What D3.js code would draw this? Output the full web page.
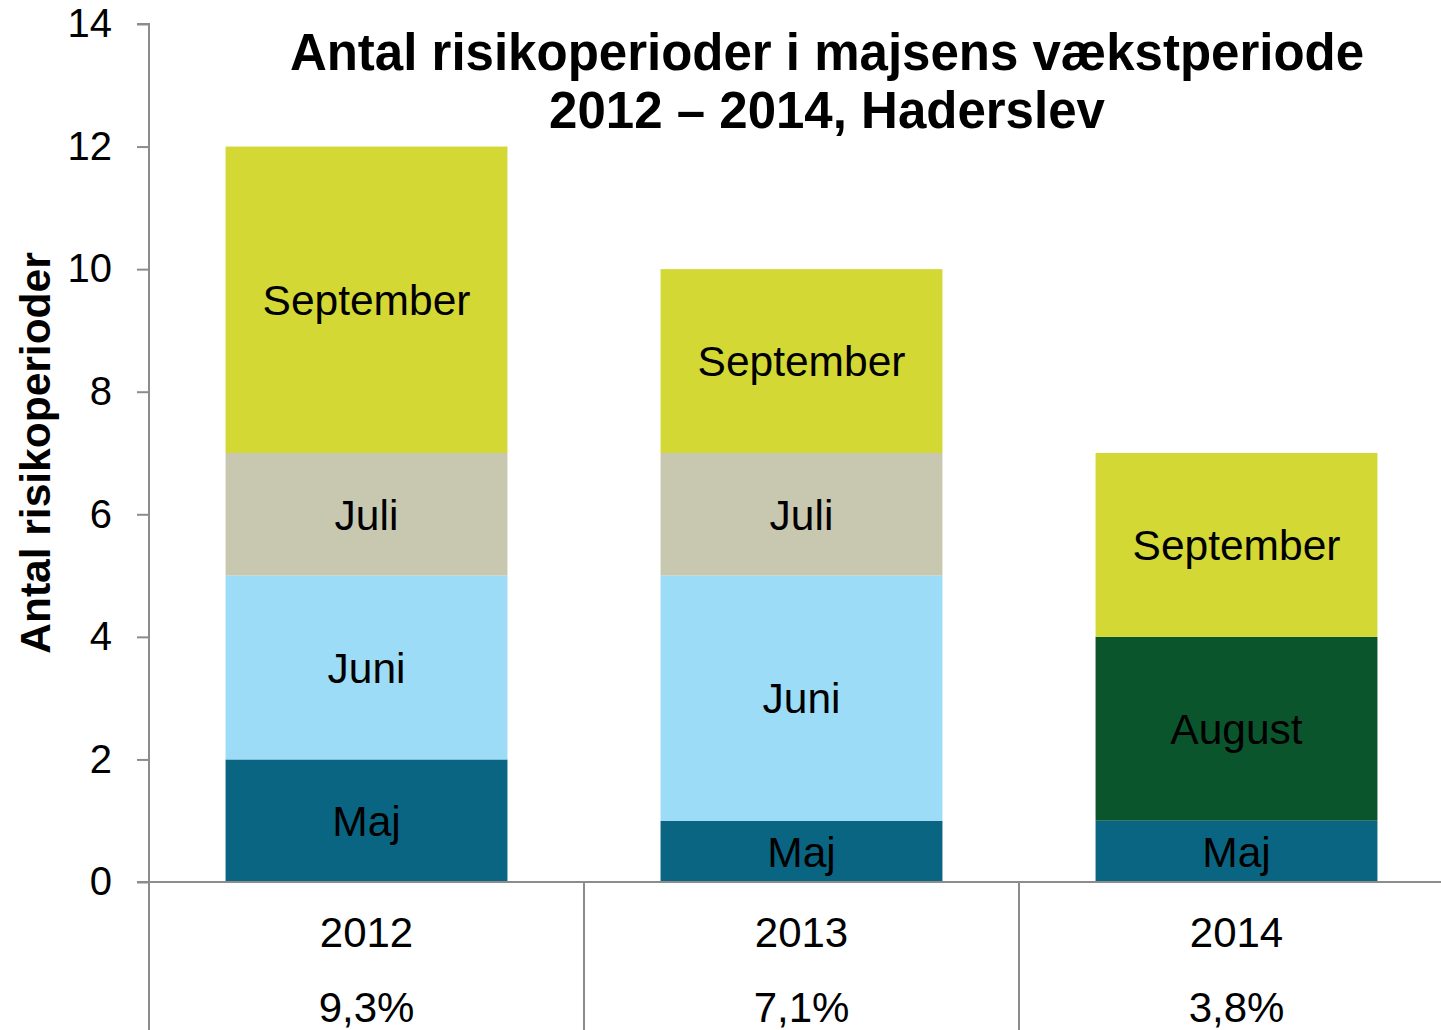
<!DOCTYPE html>
<html><head><meta charset="utf-8">
<script src="https://cdn.jsdelivr.net/npm/d3@7"></script>
<style>body{margin:0;background:#fff}svg{display:block;font-family:"Liberation Sans",Arial,sans-serif}</style>
</head><body><svg id="c" width="1441" height="1030"></svg>
<script>
const years = ["2012", "2013", "2014"];
const shares = ["9,3%", "7,1%", "3,8%"];
const months = ["Maj", "Juni", "Juli", "August", "September"];
const maj = [2, 1, 1];
const juni = [3, 4, 0];
const juli = [2, 2, 0];
const august = [0, 0, 3];
const september = [5, 3, 3];
const yTicks = [0, 2, 4, 6, 8, 10, 12, 14];
const colors = ["#0a6583", "#9cdcf6", "#c8c8b0", "#0b552d", "#d3d835"];
const titleLines = ["Antal risikoperioder i majsens vækstperiode", "2012 – 2014, Haderslev"];
const yTitle = "Antal risikoperioder";

const rows = years.map((yr, i) => ({year: yr, Maj: maj[i], Juni: juni[i], Juli: juli[i], August: august[i], September: september[i]}));
const svg = d3.select("#c");
const plotLeft = 149, plotTop = 24, plotBottom = 882, catStep = 435;
const y = d3.scaleLinear().domain([0, 14]).range([plotBottom, plotTop]);
const xCat = d3.scaleBand().domain(years).range([plotLeft, plotLeft + catStep * years.length]).padding(0);
const x = d3.scaleBand().domain(years).range([plotLeft, plotLeft + catStep * years.length]).paddingInner(0.352).paddingOuter(0.176);
const color = d3.scaleOrdinal().domain(months).range(colors);
const stack = d3.stack().keys(months)(rows);

const g = svg.append("g");
stack.forEach(layer => {
  layer.forEach(d => {
    if (d[1] - d[0] <= 0) return;
    g.append("rect").attr("x", x(d.data.year)).attr("width", x.bandwidth())
      .attr("y", y(d[1])).attr("height", y(d[0]) - y(d[1])).attr("fill", color(layer.key));
    g.append("text").attr("x", x(d.data.year) + x.bandwidth() / 2).attr("y", (y(d[0]) + y(d[1])) / 2)
      .attr("dy", "0.36em").attr("text-anchor", "middle").attr("font-size", 42.5).attr("fill", "#000")
      .text(layer.key);
  });
});

// y axis
const yAxis = d3.axisLeft(y).tickValues(yTicks).tickSize(12).tickPadding(25).tickFormat(d3.format("d"));
const ya = svg.append("g").attr("transform", `translate(${plotLeft},0)`).call(yAxis);
ya.select(".domain").attr("stroke", "#8c8c8c").attr("stroke-width", 2).attr("d", `M-12,${plotTop}H0V${plotBottom}`);
ya.selectAll(".tick line").attr("stroke", "#8c8c8c").attr("stroke-width", 2);
ya.selectAll(".tick text").attr("font-size", 40).attr("fill", "#000").attr("font-family", "Liberation Sans, Arial, sans-serif");

// x axis line
svg.append("line").attr("x1", plotLeft - 12).attr("x2", 1441).attr("y1", plotBottom).attr("y2", plotBottom)
  .attr("stroke", "#8c8c8c").attr("stroke-width", 2);
// category separators
const seps = years.map(d => xCat(d)).concat([xCat(years[years.length - 1]) + xCat.bandwidth()]);
svg.selectAll("line.sep").data(seps).enter().append("line").attr("class", "sep")
  .attr("x1", d => d).attr("x2", d => d).attr("y1", plotBottom).attr("y2", 1030)
  .attr("stroke", "#8c8c8c").attr("stroke-width", 2);
// category labels
svg.selectAll("text.yr").data(years).enter().append("text").attr("class", "yr")
  .attr("x", d => x(d) + x.bandwidth() / 2).attr("y", 947).attr("text-anchor", "middle")
  .attr("font-size", 42).text(d => d);
svg.selectAll("text.sh").data(shares).enter().append("text").attr("class", "sh")
  .attr("x", (d, i) => x(years[i]) + x.bandwidth() / 2).attr("y", 1022).attr("text-anchor", "middle")
  .attr("font-size", 42).text(d => d);

// title
svg.selectAll("text.title").data(titleLines).enter().append("text").attr("class", "title")
  .attr("x", 827).attr("y", (d, i) => 70 + i * 58).attr("text-anchor", "middle")
  .attr("font-size", 51).attr("font-weight", "bold").text(d => d);

// y title
svg.append("text").attr("transform", "translate(50,453) rotate(-90)").attr("text-anchor", "middle")
  .attr("font-size", 42.5).attr("font-weight", "bold").text(yTitle);
</script></body></html>
